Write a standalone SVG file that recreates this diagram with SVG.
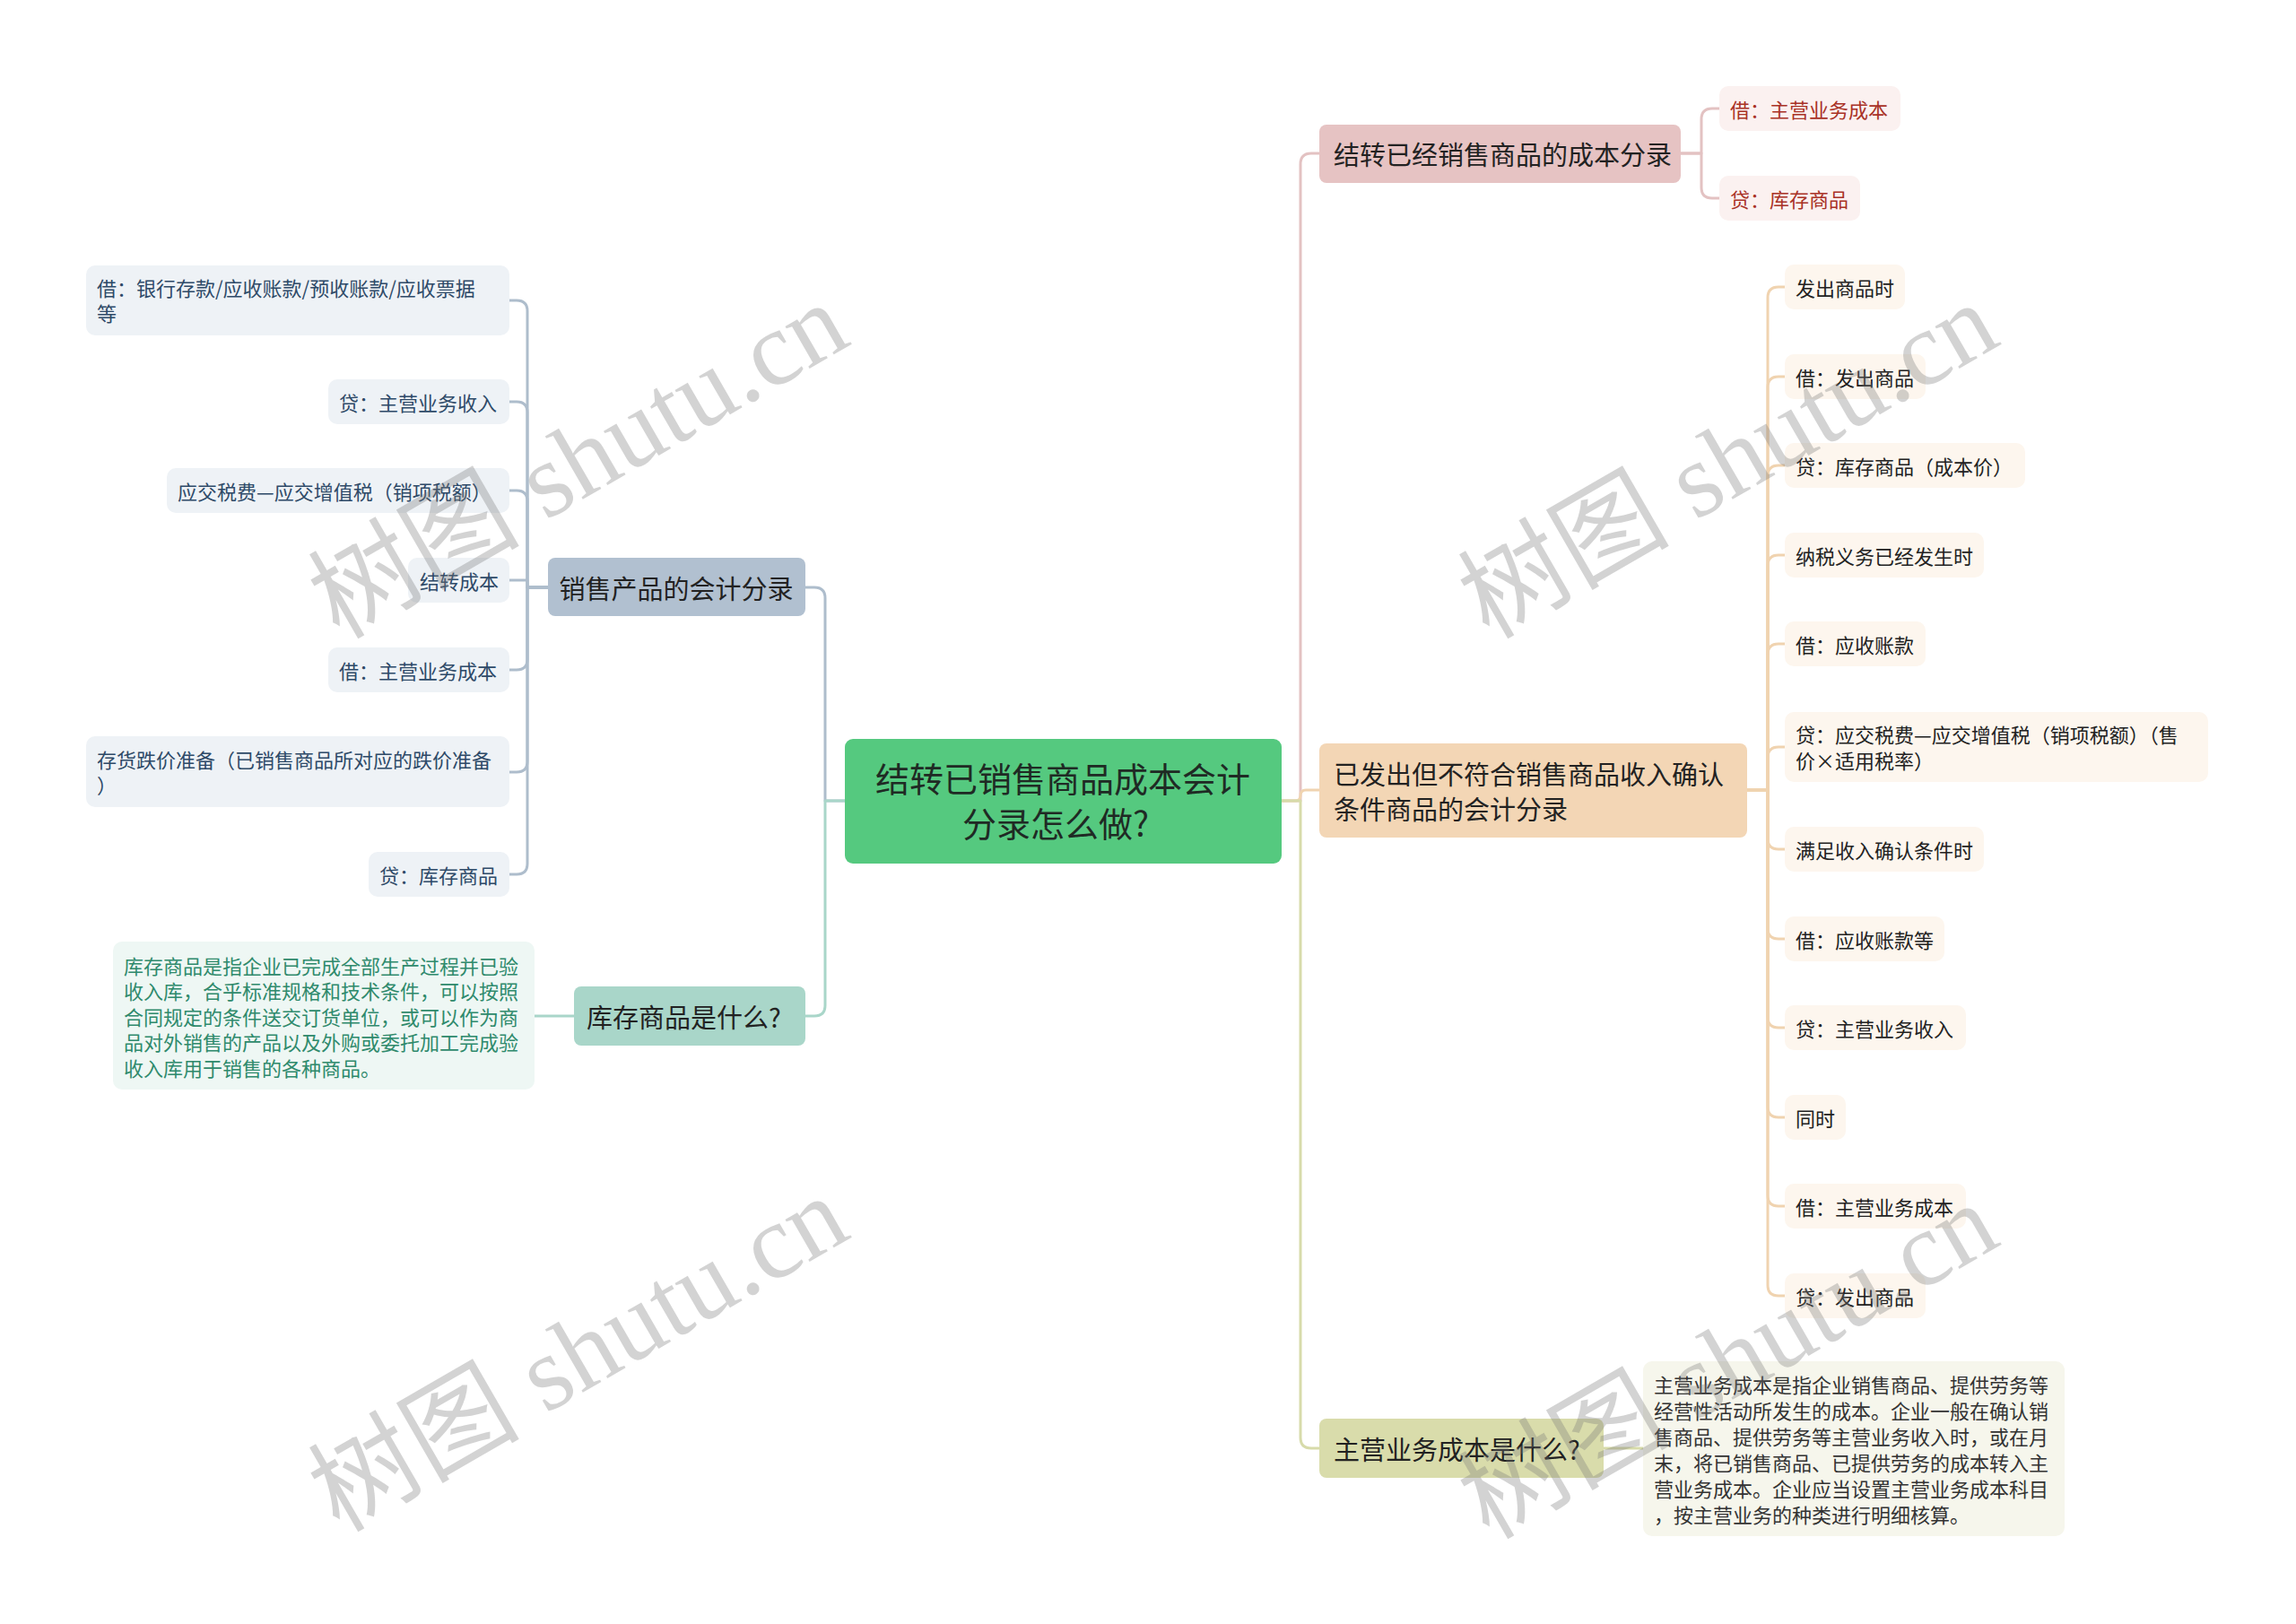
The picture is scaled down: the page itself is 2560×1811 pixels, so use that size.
<svg xmlns="http://www.w3.org/2000/svg" width="2560" height="1811" viewBox="0 0 2560 1811">
<style>
text{font-family:"Noto Sans CJK SC","Noto Sans",sans-serif;dominant-baseline:central}
.c{fill:none;stroke-width:3;stroke-linecap:round;stroke-linejoin:round}
.cb{stroke:#aebdcc}.ct{stroke:#a9d6c9}.cp{stroke:#e3c2c2}.ce{stroke:#f0d3b0}.co{stroke:#d7dbaa}
.root{fill:#55c97f}
.rt{font-size:38px;fill:#1f2a24;text-anchor:middle}
.mt{font-size:29px;fill:#222}
.bB{fill:#b1c0d0}.bT{fill:#a9d6c9}.bP{fill:#e6c3c3}.bE{fill:#f3d6b5}.bO{fill:#d9dcab}
.lB{fill:#eef2f6}.lT{fill:#eef7f4}.lP{fill:#fbf1f0}.lE{fill:#fdf6ee}.lO{fill:#f6f6ec}
.tB{font-size:22px;fill:#2e4a68}.tT{font-size:22px;fill:#2f8a6c}.tP{font-size:22px;fill:#a93226}.tE{font-size:22px;fill:#222}.tO{font-size:22px;fill:#333}
.wm{font-family:"Liberation Serif","Noto Sans CJK SC",serif;font-size:118px;fill:#777;fill-opacity:0.32;text-anchor:middle}
</style>
<rect width="2560" height="1811" fill="#ffffff"/>
<g id="connectors">
<path class="c cb" d="M942 893 H920 V667 Q920 655 908 655 H898"/>
<path class="c ct" d="M942 893 H920 V1121 Q920 1133 908 1133 H898"/>
<path class="c cp" d="M1429 893 H1450 V183 Q1450 171 1462 171 H1471"/>
<path class="c ce" d="M1429 893 H1444 Q1450 893 1450 887 Q1450 881 1456 881 H1471"/>
<path class="c co" d="M1429 893 H1450 V1603 Q1450 1615 1462 1615 H1471"/>
<path class="c cb" d="M611 655 H588 V347 Q588 335 576 335 H568"/>
<path class="c cb" d="M611 655 H588 V460 Q588 448 576 448 H568"/>
<path class="c cb" d="M611 655 H588 V559 Q588 547 576 547 H568"/>
<path class="c cb" d="M611 655 H588 V647 H568"/>
<path class="c cb" d="M611 655 H588 V735 Q588 747 576 747 H568"/>
<path class="c cb" d="M611 655 H588 V849 Q588 861 576 861 H568"/>
<path class="c cb" d="M611 655 H588 V963 Q588 975 576 975 H568"/>
<path class="c ct" d="M640 1133 H596"/>
<path class="c cp" d="M1874 171 H1897 V133 Q1897 121 1909 121 H1917"/>
<path class="c cp" d="M1874 171 H1897 V209 Q1897 221 1909 221 H1917"/>
<path class="c ce" d="M1948 881 H1971 V332 Q1971 320 1983 320 H1990"/>
<path class="c ce" d="M1948 881 H1971 V432 Q1971 420 1983 420 H1990"/>
<path class="c ce" d="M1948 881 H1971 V531 Q1971 519 1983 519 H1990"/>
<path class="c ce" d="M1948 881 H1971 V631 Q1971 619 1983 619 H1990"/>
<path class="c ce" d="M1948 881 H1971 V730 Q1971 718 1983 718 H1990"/>
<path class="c ce" d="M1948 881 H1971 V845 Q1971 833 1983 833 H1990"/>
<path class="c ce" d="M1948 881 H1971 V935 Q1971 947 1983 947 H1990"/>
<path class="c ce" d="M1948 881 H1971 V1035 Q1971 1047 1983 1047 H1990"/>
<path class="c ce" d="M1948 881 H1971 V1134 Q1971 1146 1983 1146 H1990"/>
<path class="c ce" d="M1948 881 H1971 V1234 Q1971 1246 1983 1246 H1990"/>
<path class="c ce" d="M1948 881 H1971 V1333 Q1971 1345 1983 1345 H1990"/>
<path class="c ce" d="M1948 881 H1971 V1433 Q1971 1445 1983 1445 H1990"/>
<path class="c co" d="M1788 1615 H1832"/>
</g>
<g id="root"><rect class="root" x="942" y="824" width="487" height="139" rx="9"/>
<text class="rt" x="1185" y="866">结转已销售商品成本会计</text><text class="rt" x="1177" y="916">分录怎么做?</text></g>
<g id="b-sales"><rect class="bB" x="611" y="622" width="287" height="65" rx="8"/><text class="mt" x="754" y="655" text-anchor="middle">销售产品的会计分录</text></g>
<g id="b-stock"><rect class="bT" x="640" y="1100" width="258" height="66" rx="8"/><text class="mt" x="654" y="1133">库存商品是什么?</text></g>
<g id="b-cost"><rect class="bP" x="1471" y="139" width="403" height="65" rx="8"/><text class="mt" x="1487" y="171">结转已经销售商品的成本分录</text></g>
<g id="b-sent"><rect class="bE" x="1471" y="829" width="477" height="105" rx="8"/><text class="mt" x="1487" y="862">已发出但不符合销售商品收入确认</text><text class="mt" x="1487" y="901">条件商品的会计分录</text></g>
<g id="b-main"><rect class="bO" x="1471" y="1582" width="317" height="66" rx="8"/><text class="mt" x="1487" y="1615">主营业务成本是什么?</text></g>
<g id="l1"><rect class="lB" x="96" y="296" width="472" height="78" rx="10"/><text class="tB" x="108" y="320">借：银行存款/应收账款/预收账款/应收票据</text><text class="tB" x="108" y="348">等</text></g>
<g id="l2"><rect class="lB" x="366" y="423" width="202" height="50" rx="10"/><text class="tB" x="378" y="448">贷：主营业务收入</text></g>
<g id="l3"><rect class="lB" x="186" y="522" width="382" height="50" rx="10"/><text class="tB" x="198" y="547">应交税费—应交增值税（销项税额）</text></g>
<g id="l4"><rect class="lB" x="455" y="622" width="113" height="50" rx="10"/><text class="tB" x="468" y="647">结转成本</text></g>
<g id="l5"><rect class="lB" x="366" y="722" width="202" height="50" rx="10"/><text class="tB" x="378" y="747">借：主营业务成本</text></g>
<g id="l6"><rect class="lB" x="96" y="821" width="472" height="79" rx="10"/><text class="tB" x="108" y="846">存货跌价准备（已销售商品所对应的跌价准备</text><text class="tB" x="108" y="874">）</text></g>
<g id="l7"><rect class="lB" x="411" y="950" width="157" height="50" rx="10"/><text class="tB" x="423" y="975">贷：库存商品</text></g>
<g id="d-stock"><rect class="lT" x="126" y="1050" width="470" height="165" rx="10"/>
<text class="tT" x="138" y="1076">库存商品是指企业已完成全部生产过程并已验</text>
<text class="tT" x="138" y="1104">收入库，合乎标准规格和技术条件，可以按照</text>
<text class="tT" x="138" y="1133">合同规定的条件送交订货单位，或可以作为商</text>
<text class="tT" x="138" y="1161">品对外销售的产品以及外购或委托加工完成验</text>
<text class="tT" x="138" y="1190">收入库用于销售的各种商品。</text></g>
<g id="p1"><rect class="lP" x="1917" y="96" width="202" height="50" rx="10"/><text class="tP" x="1929" y="121">借：主营业务成本</text></g>
<g id="p2"><rect class="lP" x="1917" y="196" width="157" height="50" rx="10"/><text class="tP" x="1929" y="221">贷：库存商品</text></g>
<g id="e1"><rect class="lE" x="1990" y="295" width="134" height="50" rx="10"/><text class="tE" x="2002" y="320">发出商品时</text></g>
<g id="e2"><rect class="lE" x="1990" y="395" width="157" height="50" rx="10"/><text class="tE" x="2002" y="420">借：发出商品</text></g>
<g id="e3"><rect class="lE" x="1990" y="494" width="268" height="50" rx="10"/><text class="tE" x="2002" y="519">贷：库存商品（成本价）</text></g>
<g id="e4"><rect class="lE" x="1990" y="594" width="222" height="50" rx="10"/><text class="tE" x="2002" y="619">纳税义务已经发生时</text></g>
<g id="e5"><rect class="lE" x="1990" y="693" width="157" height="50" rx="10"/><text class="tE" x="2002" y="718">借：应收账款</text></g>
<g id="e6"><rect class="lE" x="1990" y="794" width="472" height="78" rx="10"/><text class="tE" x="2002" y="818">贷：应交税费—应交增值税（销项税额）（售</text><text class="tE" x="2002" y="847">价×适用税率）</text></g>
<g id="e7"><rect class="lE" x="1990" y="922" width="222" height="50" rx="10"/><text class="tE" x="2002" y="947">满足收入确认条件时</text></g>
<g id="e8"><rect class="lE" x="1990" y="1022" width="178" height="50" rx="10"/><text class="tE" x="2002" y="1047">借：应收账款等</text></g>
<g id="e9"><rect class="lE" x="1990" y="1121" width="202" height="50" rx="10"/><text class="tE" x="2002" y="1146">贷：主营业务收入</text></g>
<g id="e10"><rect class="lE" x="1990" y="1221" width="68" height="50" rx="10"/><text class="tE" x="2002" y="1246">同时</text></g>
<g id="e11"><rect class="lE" x="1990" y="1320" width="202" height="50" rx="10"/><text class="tE" x="2002" y="1345">借：主营业务成本</text></g>
<g id="e12"><rect class="lE" x="1990" y="1420" width="157" height="50" rx="10"/><text class="tE" x="2002" y="1445">贷：发出商品</text></g>
<g id="d-main"><rect class="lO" x="1832" y="1518" width="470" height="195" rx="10"/>
<text class="tO" x="1844" y="1543">主营业务成本是指企业销售商品、提供劳务等</text>
<text class="tO" x="1844" y="1572">经营性活动所发生的成本。企业一般在确认销</text>
<text class="tO" x="1844" y="1601">售商品、提供劳务等主营业务收入时，或在月</text>
<text class="tO" x="1844" y="1630">末，将已销售商品、已提供劳务的成本转入主</text>
<text class="tO" x="1844" y="1659">营业务成本。企业应当设置主营业务成本科目</text>
<text class="tO" x="1844" y="1688">，按主营业务的种类进行明细核算。</text></g>
<g id="watermarks">
<text class="wm" transform="translate(645 514) rotate(-30)">树图 shutu.cn</text>
<text class="wm" transform="translate(1927 514) rotate(-30)">树图 shutu.cn</text>
<text class="wm" transform="translate(645 1510) rotate(-30)">树图 shutu.cn</text>
<text class="wm" transform="translate(1927 1518) rotate(-30)">树图 shutu.cn</text>
</g>
</svg>
